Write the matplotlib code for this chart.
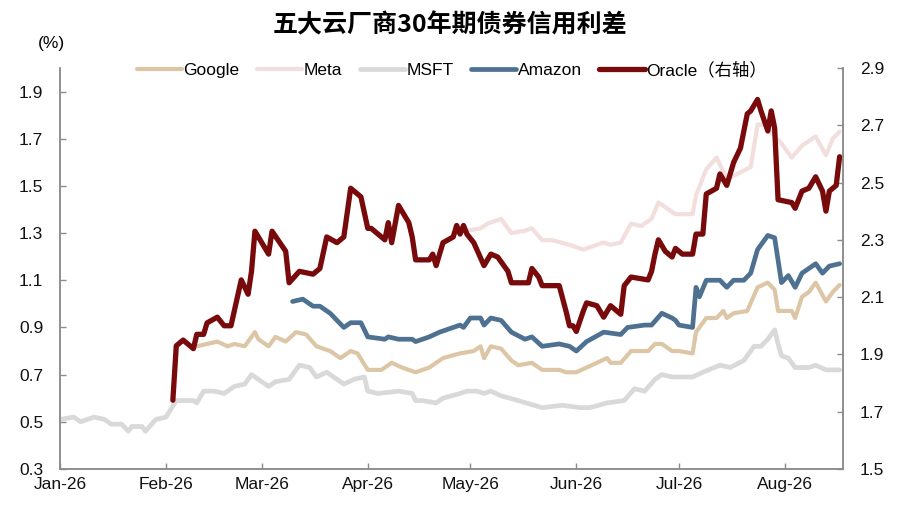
import matplotlib
matplotlib.use('Agg')
import matplotlib.pyplot as plt
import matplotlib.dates as mdates
import pandas as pd

plt.rcParams['font.family'] = ['Liberation Sans', 'Noto Sans CJK SC', 'DejaVu Sans']
plt.rcParams['axes.unicode_minus'] = False

# ---- data (dates in 2026, spreads in %) ----
msft_dates = ['01-01', '01-05', '01-07', '01-11', '01-14', '01-16', '01-19', '01-21', '01-22', '01-25',
              '01-26', '01-29', '02-01', '02-04', '02-09', '02-10', '02-12', '02-15', '02-18', '02-21',
              '02-24', '02-26', '02-27', '03-03', '03-05', '03-09', '03-12', '03-15', '03-17', '03-20',
              '03-22', '03-25', '03-28', '03-31', '04-01', '04-04', '04-10', '04-14', '04-15', '04-17',
              '04-21', '04-23', '04-28', '04-30', '05-03', '05-05', '05-07', '05-10', '05-15', '05-22',
              '05-28', '06-02', '06-05', '06-10', '06-15', '06-18', '06-21', '06-24', '06-26', '06-29',
              '07-05', '07-08', '07-13', '07-16', '07-20', '07-23', '07-25', '07-27', '07-29', '07-30',
              '07-31', '08-02', '08-04', '08-08', '08-10', '08-13', '08-17']
msft_vals = [0.51, 0.52, 0.50, 0.52, 0.51, 0.49, 0.49, 0.46, 0.48, 0.48,
             0.46, 0.51, 0.52, 0.59, 0.59, 0.58, 0.63, 0.63, 0.62, 0.65,
             0.66, 0.70, 0.69, 0.65, 0.67, 0.68, 0.74, 0.73, 0.69, 0.71,
             0.69, 0.66, 0.68, 0.69, 0.63, 0.62, 0.63, 0.62, 0.59, 0.59,
             0.58, 0.60, 0.62, 0.63, 0.63, 0.62, 0.63, 0.61, 0.59, 0.56,
             0.57, 0.56, 0.56, 0.58, 0.59, 0.64, 0.63, 0.68, 0.70, 0.69,
             0.69, 0.71, 0.74, 0.73, 0.76, 0.82, 0.82, 0.85, 0.89, 0.83,
             0.78, 0.77, 0.73, 0.73, 0.74, 0.72, 0.72]

google_dates = ['02-10', '02-13', '02-16', '02-19', '02-21', '02-24', '02-27', '02-28', '03-03', '03-05',
                '03-08', '03-11', '03-14', '03-17', '03-21', '03-24', '03-27', '03-29', '04-01', '04-05',
                '04-08', '04-11', '04-15', '04-19', '04-23', '04-28', '05-02', '05-04', '05-05', '05-07',
                '05-10', '05-13', '05-15', '05-19', '05-22', '05-27', '05-29', '06-01', '06-04', '06-10',
                '06-11', '06-14', '06-17', '06-22', '06-24', '06-26', '06-29', '07-01', '07-05', '07-06',
                '07-09', '07-12', '07-14', '07-15', '07-17', '07-21', '07-24', '07-27', '07-29', '07-30',
                '08-03', '08-04', '08-06', '08-08', '08-10', '08-13', '08-15', '08-17']
google_vals = [0.82, 0.83, 0.84, 0.82, 0.83, 0.82, 0.88, 0.85, 0.82, 0.86,
               0.84, 0.88, 0.87, 0.82, 0.80, 0.77, 0.80, 0.79, 0.72, 0.72,
               0.75, 0.73, 0.71, 0.73, 0.77, 0.79, 0.80, 0.82, 0.77, 0.82,
               0.81, 0.76, 0.74, 0.75, 0.72, 0.72, 0.71, 0.71, 0.73, 0.77,
               0.75, 0.75, 0.80, 0.80, 0.83, 0.83, 0.80, 0.80, 0.79, 0.88,
               0.94, 0.94, 0.97, 0.94, 0.96, 0.97, 1.07, 1.09, 1.06, 0.97,
               0.97, 0.94, 1.03, 1.05, 1.09, 1.01, 1.05, 1.08]

meta_dates = ['04-30', '05-04', '05-06', '05-10', '05-13', '05-17', '05-19', '05-22', '05-25', '05-30',
              '06-03', '06-05', '06-09', '06-11', '06-14', '06-17', '06-20', '06-23', '06-25', '06-27',
              '06-29', '06-30', '07-05', '07-06', '07-09', '07-12', '07-15', '07-18', '07-22', '07-24',
              '07-26', '07-29', '07-31', '08-03', '08-06', '08-10', '08-13', '08-15', '08-17']
meta_vals = [1.31, 1.32, 1.34, 1.36, 1.30, 1.31, 1.32, 1.27, 1.27, 1.25,
             1.23, 1.24, 1.26, 1.25, 1.26, 1.34, 1.33, 1.36, 1.43, 1.41,
             1.39, 1.38, 1.38, 1.46, 1.57, 1.62, 1.53, 1.55, 1.58, 1.76,
             1.76, 1.71, 1.68, 1.62, 1.67, 1.71, 1.63, 1.70, 1.73]

amazon_dates = ['03-10', '03-13', '03-16', '03-18', '03-21', '03-25', '03-27', '03-30', '04-01', '04-06',
                '04-07', '04-10', '04-14', '04-15', '04-19', '04-22', '04-26', '04-28', '04-29', '05-01',
                '05-04', '05-05', '05-07', '05-10', '05-13', '05-17', '05-19', '05-22', '05-27', '05-30',
                '06-01', '06-04', '06-09', '06-14', '06-16', '06-21', '06-23', '06-26', '06-29', '06-30',
                '07-01', '07-05', '07-06', '07-07', '07-09', '07-13', '07-15', '07-17', '07-20', '07-22',
                '07-24', '07-27', '07-29', '07-31', '08-02', '08-04', '08-06', '08-10', '08-12', '08-14',
                '08-17']
amazon_vals = [1.01, 1.02, 0.99, 0.99, 0.96, 0.90, 0.92, 0.92, 0.86, 0.85,
               0.86, 0.85, 0.85, 0.84, 0.86, 0.88, 0.90, 0.91, 0.90, 0.94,
               0.94, 0.91, 0.94, 0.93, 0.88, 0.85, 0.86, 0.82, 0.83, 0.82,
               0.80, 0.84, 0.88, 0.87, 0.90, 0.91, 0.91, 0.96, 0.94, 0.93,
               0.91, 0.90, 1.07, 1.03, 1.10, 1.10, 1.07, 1.10, 1.10, 1.13,
               1.23, 1.29, 1.28, 1.09, 1.12, 1.07, 1.13, 1.17, 1.13, 1.16,
               1.17]

oracle_dates = ['02-03', '02-04', '02-06', '02-09', '02-10', '02-12', '02-13', '02-16', '02-18', '02-20',
                '02-23', '02-25', '02-26', '02-27', '03-01', '03-03', '03-04', '03-08', '03-09', '03-12',
                '03-16', '03-18', '03-20', '03-23', '03-25', '03-27', '03-30', '04-01', '04-02', '04-06',
                '04-07', '04-08', '04-10', '04-13', '04-14', '04-15', '04-19', '04-20', '04-21', '04-23',
                '04-26', '04-27', '04-28', '04-29', '04-30', '05-02', '05-05', '05-07', '05-09', '05-12',
                '05-13', '05-18', '05-19', '05-21', '05-22', '05-27', '05-29', '05-30', '05-31', '06-01',
                '06-03', '06-04', '06-07', '06-09', '06-11', '06-14', '06-15', '06-17', '06-22', '06-23',
                '06-24', '06-25', '06-27', '06-29', '06-30', '07-02', '07-05', '07-06', '07-08', '07-09',
                '07-12', '07-13', '07-15', '07-17', '07-19', '07-21', '07-22', '07-24', '07-25', '07-27',
                '07-28', '07-29', '07-30', '08-03', '08-04', '08-06', '08-08', '08-10', '08-12', '08-13',
                '08-14', '08-16', '08-17']
oracle_vals = [1.74, 1.93, 1.95, 1.92, 1.97, 1.97, 2.01, 2.03, 2.00, 2.00,
               2.16, 2.11, 2.19, 2.33, 2.29, 2.25, 2.33, 2.26, 2.15, 2.19,
               2.18, 2.20, 2.31, 2.29, 2.31, 2.48, 2.45, 2.34, 2.34, 2.30,
               2.36, 2.29, 2.42, 2.36, 2.31, 2.23, 2.23, 2.25, 2.21, 2.29,
               2.31, 2.35, 2.32, 2.35, 2.32, 2.29, 2.21, 2.25, 2.24, 2.19,
               2.15, 2.15, 2.20, 2.17, 2.14, 2.14, 2.05, 2.00, 2.00, 1.98,
               2.05, 2.08, 2.07, 2.03, 2.07, 2.04, 2.14, 2.17, 2.16, 2.19,
               2.25, 2.30, 2.26, 2.24, 2.27, 2.25, 2.25, 2.32, 2.32, 2.46,
               2.48, 2.53, 2.49, 2.57, 2.62, 2.74, 2.75, 2.79, 2.75, 2.68,
               2.75, 2.69, 2.44, 2.43, 2.41, 2.47, 2.48, 2.52, 2.47, 2.40,
               2.47, 2.49, 2.59]

left_ticks = [0.3, 0.5, 0.7, 0.9, 1.1, 1.3, 1.5, 1.7, 1.9]
right_ticks = [1.5, 1.7, 1.9, 2.1, 2.3, 2.5, 2.7, 2.9]


def to_dates(md):
    return pd.to_datetime(['2026-' + d for d in md])


axis_grey = '#8c8c8c'
fs = 12.5

fig = plt.figure(figsize=(9, 5.07), dpi=100)
ax = fig.add_axes([0.0667, 0.075, 0.87, 0.791])
ax2 = ax.twinx()

kw = dict(solid_joinstyle='round', solid_capstyle='round')
l1, = ax.plot(to_dates(google_dates), google_vals, color='#dcc6a6', lw=3.0, label='Google', **kw)
l2, = ax.plot(to_dates(meta_dates), meta_vals, color='#f2dedc', lw=3.0, label='Meta', **kw)
l3, = ax.plot(to_dates(msft_dates), msft_vals, color='#d9d9d9', lw=3.4, label='MSFT', **kw)
l4, = ax.plot(to_dates(amazon_dates), amazon_vals, color='#4e7192', lw=3.4, label='Amazon', **kw)
l5, = ax2.plot(to_dates(oracle_dates), oracle_vals, color='#780a0c', lw=3.8, label='Oracle（右轴）', **kw)

ax.set_xlim(pd.Timestamp('2026-01-01'), pd.Timestamp('2026-08-18'))
ax.set_ylim(0.3, 2.0)
ax2.set_ylim(1.5, 2.9)
ax.set_yticks(left_ticks)
ax2.set_yticks(right_ticks)
ax.yaxis.set_major_formatter(matplotlib.ticker.FormatStrFormatter('%.1f'))
ax2.yaxis.set_major_formatter(matplotlib.ticker.FormatStrFormatter('%.1f'))
ax.xaxis.set_major_locator(mdates.MonthLocator())
ax.xaxis.set_major_formatter(mdates.DateFormatter('%b-%y'))

for a in (ax, ax2):
    a.spines['top'].set_visible(False)
    for s in ('left', 'right', 'bottom'):
        a.spines[s].set_color(axis_grey)
        a.spines[s].set_linewidth(1.1)
    a.tick_params(direction='in', length=4, width=1, color=axis_grey, labelsize=fs,
                  labelcolor='#111111')
ax.tick_params(axis='y', pad=12)
ax2.tick_params(axis='y', pad=12)
ax.tick_params(axis='x', pad=6)

fig.text(0.5, 0.95, '五大云厂商30年期债券信用利差', ha='center', va='center',
         fontsize=18, fontweight='bold', family=['Noto Sans CJK SC'])
fig.text(0.057, 0.915, '(%)', ha='center', va='center', fontsize=fs)

fig.legend(handles=[l1, l2, l3, l4, l5], loc='center', bbox_to_anchor=(0.502, 0.862),
           ncol=5, frameon=False, fontsize=fs, handlelength=2.6, handletextpad=0.1,
           columnspacing=1.0)

plt.savefig('out.png', dpi=100)
plt.close()
